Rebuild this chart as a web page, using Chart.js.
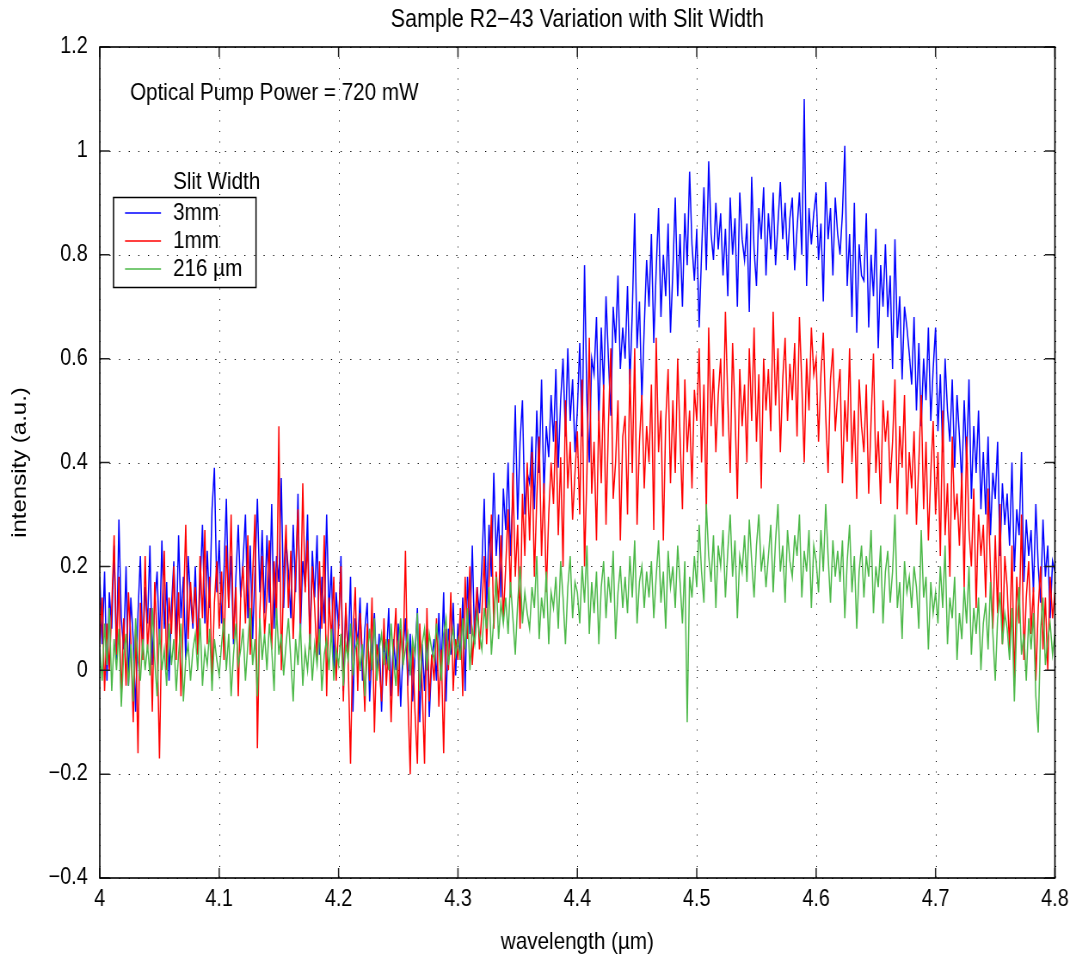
<!DOCTYPE html>
<html>
<head>
<meta charset="utf-8">
<title>Sample R2-43 Variation with Slit Width</title>
<script src="https://cdn.jsdelivr.net/npm/chart.js@4.4.0/dist/chart.umd.min.js"></script>
<style>
  body { margin: 0; background: #fff; }
</style>
</head>
<body>
<!-- drawn wide and squeezed to 1076px so the Helvetica-style text comes out narrow -->
<canvas id="myChart" width="1251" height="960" style="width:1076px;height:960px;display:block"></canvas>
<script>
'use strict';

// wavelength sampling (um)
var wlStart = 4.0;
var wlStep = 0.002;

// intensity (a.u.), one value per wavelength step
var slit3mm = [
  0.18,0.05,0.19,-0.02,0.15,0.08,0.24,0.02,0.29,0.10,
  0.04,0.20,-0.03,0.14,0.06,-0.08,0.11,0.22,0.03,0.16,
  0.09,0.24,0.01,0.13,0.19,0.05,0.25,0.08,0.17,-0.02,
  0.12,0.21,0.06,0.26,0.10,0.18,0.02,0.22,0.14,0.08,
  0.20,0.05,0.16,0.28,0.09,0.23,0.12,0.31,0.39,0.15,
  0.25,0.09,0.19,0.33,0.12,0.22,0.05,0.18,0.28,0.14,
  0.21,0.30,0.10,0.24,0.06,0.19,0.33,0.15,0.27,0.11,
  0.26,0.13,0.32,0.08,0.22,0.17,0.37,0.12,0.25,0.19,
  0.10,0.28,0.15,0.34,0.07,0.21,0.16,0.30,0.05,0.23,
  0.14,0.26,0.03,0.18,0.09,0.30,0.11,0.20,0.00,0.15,
  0.08,0.22,-0.04,0.12,0.03,0.18,-0.08,0.10,0.05,0.14,
  -0.02,0.08,0.13,-0.06,0.04,0.11,-0.01,0.07,-0.08,0.05,
  0.02,0.12,-0.05,0.06,0.00,0.09,-0.07,0.04,0.10,-0.03,
  0.07,-0.06,0.03,0.12,-0.10,0.05,-0.04,0.08,-0.09,0.02,
  0.06,-0.02,0.11,0.00,0.15,-0.06,0.08,0.03,0.13,-0.01,
  0.09,0.02,0.14,-0.04,0.18,0.07,0.24,0.05,0.16,0.11,
  0.20,0.33,0.12,0.28,0.18,0.38,0.22,0.30,0.14,0.35,
  0.27,0.40,0.22,0.34,0.51,0.29,0.44,0.52,0.30,0.38,
  0.36,0.45,0.31,0.50,0.38,0.56,0.34,0.47,0.41,0.53,
  0.44,0.58,0.39,0.52,0.60,0.45,0.62,0.48,0.56,0.42,
  0.50,0.63,0.45,0.78,0.52,0.40,0.60,0.57,0.68,0.48,
  0.66,0.54,0.72,0.60,0.49,0.70,0.63,0.76,0.58,0.66,
  0.60,0.74,0.55,0.69,0.88,0.62,0.71,0.52,0.66,0.79,
  0.70,0.84,0.63,0.77,0.89,0.68,0.80,0.72,0.86,0.65,
  0.77,0.91,0.72,0.84,0.70,0.88,0.78,0.96,0.82,0.75,
  0.85,0.66,0.80,0.93,0.77,0.98,0.84,0.79,0.90,0.81,
  0.88,0.76,0.85,0.72,0.91,0.80,0.87,0.70,0.92,0.83,
  0.79,0.86,0.69,0.95,0.81,0.74,0.89,0.83,0.93,0.76,
  0.88,0.81,0.92,0.78,0.86,0.94,0.83,0.90,0.79,0.87,
  0.91,0.77,0.85,0.92,0.80,1.10,0.74,0.89,0.82,0.88,
  0.92,0.79,0.86,0.71,0.94,0.83,0.89,0.76,0.91,0.84,
  0.80,0.88,1.01,0.74,0.84,0.68,0.90,0.65,0.82,0.76,
  0.75,0.88,0.66,0.80,0.72,0.85,0.62,0.78,0.70,0.82,
  0.68,0.76,0.58,0.83,0.64,0.72,0.56,0.70,0.66,0.61,
  0.55,0.68,0.50,0.63,0.47,0.60,0.52,0.66,0.48,0.58,
  0.66,0.46,0.57,0.42,0.60,0.50,0.44,0.56,0.39,0.53,
  0.45,0.36,0.52,0.40,0.56,0.33,0.47,0.38,0.50,0.31,
  0.42,0.30,0.45,0.26,0.38,0.33,0.44,0.22,0.36,0.28,
  0.34,0.24,0.40,0.19,0.31,0.26,0.42,0.17,0.29,0.22,
  0.27,0.15,0.32,0.20,0.13,0.29,0.18,0.24,0.10,0.21,
  0.19
];

var slit1mm = [
  0.05,0.14,-0.04,0.09,0.00,0.12,0.26,0.03,0.18,-0.06,
  0.10,-0.03,0.15,0.06,-0.10,0.08,-0.16,0.13,0.02,0.22,
  0.04,0.12,-0.08,0.17,0.06,-0.17,0.10,0.23,0.00,0.14,
  0.07,0.20,0.02,0.15,-0.05,0.11,0.28,0.06,0.17,0.09,
  0.16,0.03,0.22,0.10,0.27,0.05,0.18,-0.02,0.13,0.21,
  0.08,0.19,0.02,0.24,0.12,0.30,0.06,0.16,-0.05,0.14,
  0.20,0.09,0.26,0.03,0.18,0.30,-0.15,0.11,0.22,0.07,
  0.14,0.25,0.04,0.21,0.10,0.47,0.00,0.18,0.28,0.12,
  0.23,0.06,0.19,0.31,0.09,0.36,0.15,0.25,0.04,0.20,
  0.12,0.02,0.21,0.08,0.26,-0.05,0.14,0.06,0.18,-0.02,
  0.09,0.20,-0.06,0.13,0.02,-0.18,0.07,0.16,-0.04,0.11,
  0.03,-0.08,0.09,-0.02,0.14,-0.12,0.05,0.01,-0.06,0.10,
  -0.03,0.06,-0.10,0.04,0.12,-0.05,0.08,0.01,0.23,-0.04,
  -0.20,0.05,-0.08,-0.18,0.09,-0.03,-0.18,0.12,-0.06,0.03,
  -0.02,0.10,-0.07,0.04,-0.16,0.08,0.00,0.15,-0.04,0.06,
  0.02,0.12,-0.05,0.18,0.06,0.20,0.01,0.09,0.16,0.04,
  0.11,0.22,0.05,0.17,0.30,0.08,0.19,0.13,0.26,0.10,
  0.20,0.31,0.14,0.38,0.18,0.28,0.08,0.34,0.22,0.40,
  0.25,0.42,0.18,0.33,0.45,0.22,0.36,0.15,0.30,0.40,
  0.32,0.48,0.26,0.41,0.20,0.52,0.35,0.44,0.29,0.38,
  0.46,0.30,0.56,0.20,0.38,0.64,0.34,0.44,0.25,0.50,
  0.36,0.55,0.28,0.47,0.62,0.33,0.40,0.52,0.25,0.45,
  0.49,0.30,0.58,0.38,0.62,0.28,0.44,0.53,0.35,0.47,
  0.40,0.55,0.27,0.64,0.42,0.50,0.25,0.48,0.58,0.36,
  0.52,0.38,0.60,0.45,0.31,0.56,0.42,0.50,0.35,0.54,
  0.48,0.62,0.40,0.55,0.30,0.66,0.47,0.58,0.42,0.53,
  0.60,0.45,0.69,0.52,0.38,0.63,0.50,0.33,0.58,0.47,
  0.55,0.40,0.62,0.48,0.66,0.44,0.57,0.35,0.60,0.50,
  0.58,0.46,0.69,0.51,0.62,0.42,0.56,0.64,0.48,0.59,
  0.52,0.63,0.45,0.68,0.55,0.40,0.60,0.50,0.66,0.57,
  0.60,0.44,0.57,0.65,0.49,0.38,0.56,0.62,0.46,0.53,
  0.58,0.36,0.52,0.44,0.62,0.40,0.50,0.33,0.56,0.47,
  0.42,0.55,0.34,0.48,0.61,0.38,0.46,0.32,0.52,0.44,
  0.50,0.36,0.44,0.56,0.31,0.47,0.39,0.53,0.30,0.42,
  0.35,0.46,0.28,0.40,0.53,0.31,0.44,0.25,0.38,0.48,
  0.30,0.42,0.22,0.50,0.26,0.36,0.18,0.45,0.29,0.34,
  0.24,0.38,0.16,0.45,0.27,0.20,0.35,0.12,0.30,0.22,
  0.28,0.14,0.35,0.19,0.08,0.26,0.11,0.32,0.05,0.22,
  0.16,0.04,0.24,-0.03,0.18,0.09,0.30,0.02,0.14,0.21,
  0.07,0.16,-0.02,0.12,0.20,0.04,0.14,0.00,0.18,0.10,
  0.15
];

var slit216 = [
  0.04,-0.02,0.09,0.01,0.12,-0.04,0.06,0.00,0.08,-0.07,
  0.03,0.07,-0.03,0.05,-0.06,0.10,0.02,-0.02,0.06,0.00,
  0.05,-0.01,0.12,0.02,-0.05,0.08,0.00,0.04,-0.03,0.09,
  0.01,0.06,-0.04,0.03,0.09,-0.06,0.02,0.05,-0.02,0.04,
  0.07,0.00,0.10,-0.03,0.04,0.01,0.08,-0.04,0.06,0.02,
  -0.01,0.05,0.10,0.00,0.07,-0.05,0.03,0.09,0.01,0.04,
  0.08,-0.02,0.05,0.12,0.01,0.06,-0.05,0.10,0.02,0.07,
  0.00,0.09,0.04,-0.04,0.12,0.03,0.07,-0.01,0.05,0.10,
  0.02,-0.06,0.06,0.01,0.09,-0.03,0.04,0.00,0.07,-0.02,
  0.05,0.01,0.08,-0.04,0.03,0.06,0.00,0.08,-0.02,0.04,
  0.01,0.07,-0.03,0.05,0.02,0.09,-0.01,0.04,0.06,0.00,
  0.05,-0.05,0.03,0.08,0.00,0.10,-0.02,0.04,0.07,0.01,
  0.06,0.00,0.09,0.02,-0.03,0.05,0.10,0.01,0.04,0.07,
  -0.01,0.06,0.03,0.11,-0.04,0.05,0.08,0.00,0.07,0.04,
  0.02,0.09,0.04,-0.02,0.07,0.10,0.01,0.05,0.08,0.03,
  0.06,0.02,0.10,0.04,0.12,0.00,0.08,0.05,0.11,0.07,
  0.04,0.12,0.08,0.16,0.03,0.10,0.18,0.06,0.13,0.09,
  0.14,0.07,0.17,0.10,0.03,0.13,0.20,0.09,0.15,0.11,
  0.08,0.16,0.12,0.22,0.06,0.14,0.10,0.19,0.05,0.15,
  0.12,0.18,0.08,0.21,0.14,0.05,0.16,0.22,0.10,0.17,
  0.15,0.09,0.20,0.13,0.24,0.07,0.17,0.11,0.19,0.05,
  0.16,0.21,0.10,0.18,0.13,0.23,0.06,0.15,0.20,0.12,
  0.18,0.11,0.22,0.14,0.25,0.09,0.17,0.20,0.12,0.19,
  0.14,0.21,0.10,0.18,0.25,0.13,0.19,0.08,0.23,0.16,
  0.20,0.12,0.24,0.17,0.09,0.21,-0.10,0.18,0.14,0.22,
  0.16,0.28,0.19,0.13,0.32,0.22,0.17,0.26,0.12,0.24,
  0.20,0.27,0.14,0.23,0.30,0.18,0.25,0.10,0.22,0.19,
  0.26,0.17,0.29,0.21,0.14,0.24,0.30,0.19,0.23,0.16,
  0.22,0.28,0.15,0.25,0.32,0.19,0.24,0.13,0.27,0.21,
  0.18,0.26,0.22,0.30,0.14,0.23,0.19,0.27,0.12,0.24,
  0.21,0.15,0.27,0.19,0.32,0.22,0.13,0.25,0.18,0.23,
  0.17,0.25,0.10,0.21,0.28,0.15,0.22,0.08,0.19,0.24,
  0.14,0.22,0.18,0.27,0.11,0.20,0.16,0.24,0.09,0.19,
  0.23,0.13,0.19,0.30,0.12,0.17,0.06,0.21,0.15,0.18,
  0.12,0.20,0.16,0.08,0.27,0.14,0.18,0.04,0.17,0.11,
  0.15,0.09,0.20,0.12,0.24,0.05,0.14,0.10,0.18,0.02,
  0.11,0.06,0.16,0.09,0.20,0.03,0.12,0.07,0.14,0.00,
  0.09,0.13,0.04,0.17,0.07,-0.02,0.10,0.15,0.05,0.11,
  0.08,0.02,0.12,-0.06,0.09,0.16,0.03,0.07,-0.02,0.10,
  0.04,0.11,-0.05,-0.12,0.08,0.14,0.01,0.06,0.09,0.03,
  0.07
];

var seriesLabels = ['3mm', '1mm', '216 \u00b5m'];
var seriesColors = ['#0000ff', '#ff0000', '#4cb848'];

var xTicks = [4, 4.1, 4.2, 4.3, 4.4, 4.5, 4.6, 4.7, 4.8];
var yTicks = [-0.4, -0.2, 0, 0.2, 0.4, 0.6, 0.8, 1, 1.2];

var FONT = '"Liberation Sans", Arial, Helvetica, sans-serif';
// horizontal squeeze of the canvas (css width / drawing width)
var SQ = 1076 / 1251;

function toPoints(values) {
  return values.map(function (v, i) {
    return { x: wlStart + i * wlStep, y: v };
  });
}

function tickText(v) {
  var s = String(Number(v.toFixed(1)));
  return s.replace('-', '\u2212');
}

// dotted grid, box, inward ticks and all the free text (MATLAB look)
var axesBox = {
  id: 'axesBox',
  beforeDatasetsDraw: function (chart) {
    var ctx = chart.ctx, a = chart.chartArea;
    var xs = chart.scales.x, ys = chart.scales.y;
    ctx.save();
    ctx.strokeStyle = '#000';
    ctx.lineWidth = 1;
    ctx.setLineDash([1, 9.5]);
    xTicks.forEach(function (v) {
      var px = Math.round(xs.getPixelForValue(v)) + 0.5;
      ctx.beginPath();
      ctx.moveTo(px, a.top);
      ctx.lineTo(px, a.bottom);
      ctx.stroke();
    });
    ctx.lineWidth = 1.1;
    ctx.setLineDash([1.3, 9.9]);
    yTicks.forEach(function (v) {
      var py = Math.round(ys.getPixelForValue(v)) + 0.5;
      ctx.beginPath();
      ctx.moveTo(a.left, py);
      ctx.lineTo(a.right, py);
      ctx.stroke();
    });
    ctx.restore();
  },
  afterDatasetsDraw: function (chart) {
    var ctx = chart.ctx, a = chart.chartArea;
    var xs = chart.scales.x, ys = chart.scales.y;
    var tx = 10 / SQ, ty = 10;
    ctx.save();
    ctx.strokeStyle = '#222';
    ctx.lineWidth = 1.5;
    xTicks.forEach(function (v) {
      var px = xs.getPixelForValue(v);
      ctx.beginPath();
      ctx.moveTo(px, a.bottom);
      ctx.lineTo(px, a.bottom - ty);
      ctx.moveTo(px, a.top);
      ctx.lineTo(px, a.top + ty);
      ctx.stroke();
    });
    yTicks.forEach(function (v) {
      var py = ys.getPixelForValue(v);
      ctx.beginPath();
      ctx.moveTo(a.left, py);
      ctx.lineTo(a.left + tx, py);
      ctx.moveTo(a.right, py);
      ctx.lineTo(a.right - tx, py);
      ctx.stroke();
    });
    ctx.strokeStyle = '#000';
    ctx.lineWidth = 1.6;
    ctx.strokeRect(a.left, a.top, a.right - a.left, a.bottom - a.top);
    ctx.restore();
  },
  afterDraw: function (chart) {
    var ctx = chart.ctx, a = chart.chartArea;
    var midX = (a.left + a.right) / 2;
    ctx.save();
    ctx.fillStyle = '#000';

    ctx.font = '25px ' + FONT;
    ctx.textAlign = 'center';
    ctx.textBaseline = 'alphabetic';
    ctx.fillText('Sample R2\u221243 Variation with Slit Width', midX, 27);

    ctx.font = '24px ' + FONT;
    ctx.textBaseline = 'middle';
    ctx.fillText('wavelength (\u00b5m)', midX, 942);

    ctx.save();
    ctx.translate(23, (a.top + a.bottom) / 2);
    ctx.rotate(-Math.PI / 2);
    ctx.fillText('intensity (a.u.)', 0, 0);
    ctx.restore();

    ctx.textAlign = 'left';
    ctx.textBaseline = 'alphabetic';
    ctx.fillText('Optical Pump Power = 720 mW', 130 / SQ, 100);

    // legend
    ctx.font = '24px ' + FONT;
    ctx.fillText('Slit Width', 173 / SQ, 189);
    ctx.lineWidth = 1.5;
    ctx.strokeStyle = '#000';
    ctx.strokeRect(113.5 / SQ, 197.5, (256 - 113.5) / SQ, 90);
    var baselines = [220, 248, 276];
    seriesLabels.forEach(function (label, i) {
      var ly = baselines[i] - 7;
      ctx.strokeStyle = seriesColors[i];
      ctx.lineWidth = 1.3;
      ctx.beginPath();
      ctx.moveTo(125 / SQ, ly);
      ctx.lineTo(161 / SQ, ly);
      ctx.stroke();
      ctx.fillText(label, 173 / SQ, baselines[i]);
    });
    ctx.restore();
  }
};

var ctx = document.getElementById('myChart').getContext('2d');

var myChart = new Chart(ctx, {
  type: 'line',
  data: {
    datasets: [
      { label: seriesLabels[0], data: toPoints(slit3mm), borderColor: seriesColors[0], order: 3 },
      { label: seriesLabels[1], data: toPoints(slit1mm), borderColor: seriesColors[1], order: 2 },
      { label: seriesLabels[2], data: toPoints(slit216), borderColor: seriesColors[2], order: 1 }
    ]
  },
  options: {
    responsive: false,
    devicePixelRatio: 1,
    animation: false,
    events: [],
    layout: { padding: { top: 47, right: 24.5, left: 0, bottom: 0 } },
    elements: {
      line: { borderWidth: 1.5, tension: 0, fill: false },
      point: { radius: 0 }
    },
    plugins: {
      legend: { display: false },
      title: { display: false },
      tooltip: { enabled: false }
    },
    scales: {
      x: {
        type: 'linear',
        min: 4,
        max: 4.8,
        grid: { display: false, drawTicks: false },
        border: { display: false },
        afterBuildTicks: function (s) { s.ticks = xTicks.map(function (v) { return { value: v }; }); },
        afterFit: function (s) { s.height = 82; },
        ticks: {
          color: '#000',
          padding: 8,
          maxRotation: 0,
          autoSkip: false,
          font: { family: FONT, size: 23 },
          callback: function (v) { return tickText(v); }
        }
      },
      y: {
        type: 'linear',
        min: -0.4,
        max: 1.2,
        grid: { display: false, drawTicks: false },
        border: { display: false },
        afterBuildTicks: function (s) { s.ticks = yTicks.map(function (v) { return { value: v }; }); },
        afterFit: function (s) { s.width = 116; },
        ticks: {
          color: '#000',
          padding: 14,
          autoSkip: false,
          font: { family: FONT, size: 23 },
          callback: function (v) { return tickText(v); }
        }
      }
    }
  },
  plugins: [axesBox]
});
</script>
</body>
</html>
